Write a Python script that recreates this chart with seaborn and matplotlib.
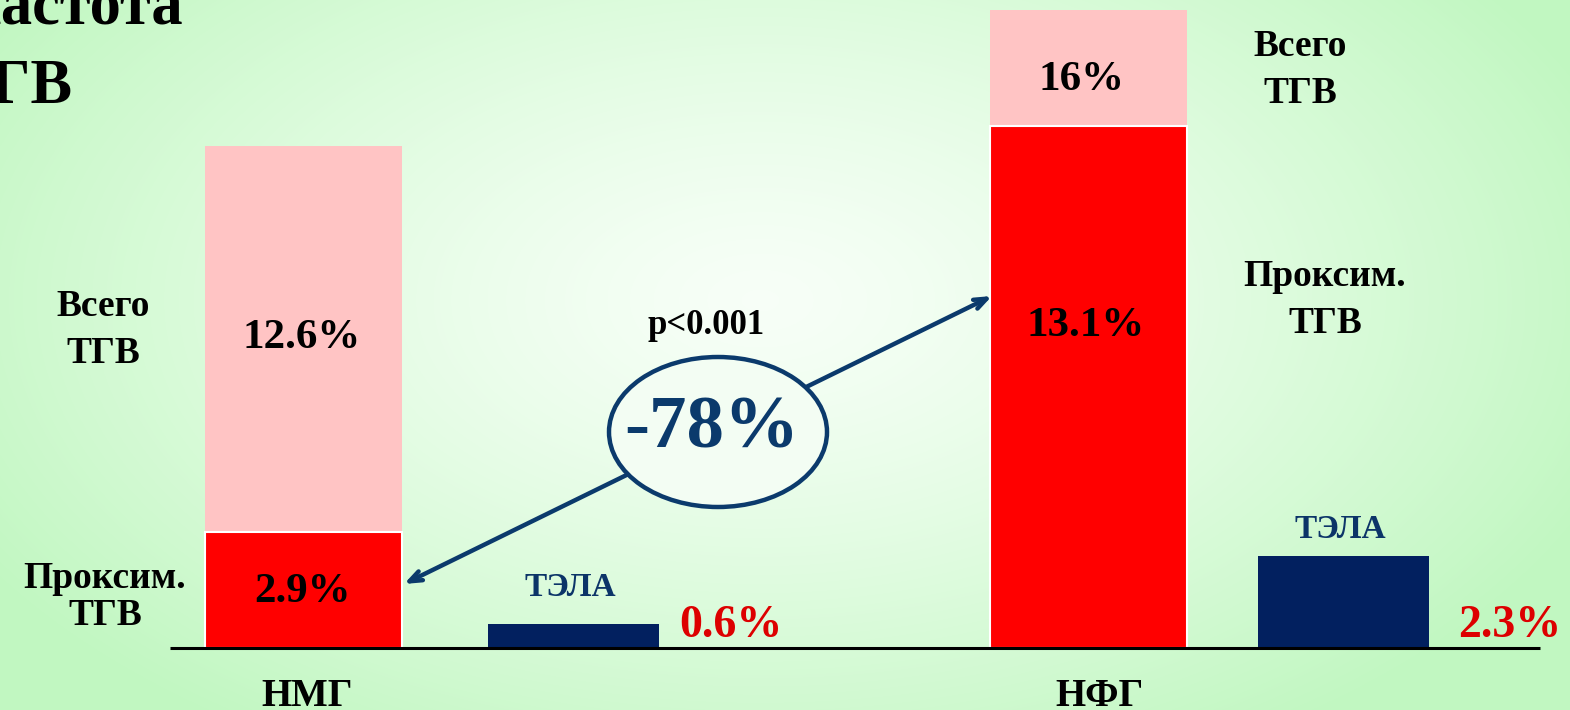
import numpy as np
import pandas as pd
import matplotlib
matplotlib.use("Agg")
import matplotlib.pyplot as plt
from matplotlib.patches import Ellipse
import seaborn as sns

# ---- data ----
groups = ["НМГ", "НФГ"]
total_tgv = [12.6, 16.0]
proximal_tgv = [2.9, 13.1]
tela = [0.6, 2.3]
total_labels = ["12.6%", "16%"]
prox_labels = ["2.9%", "13.1%"]
tela_labels = ["0.6%", "2.3%"]
reduction_label = "-78%"
p_label = "p<0.001"

sns.set_style("white")
plt.rcParams["font.family"] = ["Liberation Serif", "DejaVu Serif"]
plt.rcParams["font.weight"] = "bold"

W, H = 1570, 710
fig = plt.figure(figsize=(W / 100, H / 100), dpi=100)

# background radial gradient
axbg = fig.add_axes([0, 0, 1, 1], zorder=0)
yy, xx = np.mgrid[0:H, 0:W]
t = np.sqrt(((xx - 760) / 900.0) ** 2 + ((yy - 300) / 520.0) ** 2)
t = np.clip(t, 0, 1) ** 1.3
c0 = np.array([0.97, 1.0, 0.97])
c1 = np.array([0.76, 0.97, 0.76])
img = c0[None, None, :] * (1 - t[..., None]) + c1[None, None, :] * t[..., None]
axbg.imshow(img, aspect="auto", extent=[0, 1, 0, 1], origin="upper")
axbg.axis("off")

ax = fig.add_axes([0, 0, 1, 1], zorder=1)
ax.patch.set_alpha(0)

# coordinate helpers (pixel -> data) for annotations
X0, XS = 303.5, 785.0
Y0, YS = 648.0, 39.875
def dx(px): return (px - X0) / XS
def dy(py): return (Y0 - py) / YS

main_pos = [0.0, 1.0]
tela_pos = [dx(573.5), dx(1343.5)]

df_main = pd.DataFrame({"pos": main_pos, "total": total_tgv, "prox": proximal_tgv})
df_tela = pd.DataFrame({"pos": tela_pos, "tela": tela})

sns.barplot(data=df_main, x="pos", y="total", native_scale=True, width=197 / XS,
            color="#ffc4c4", saturation=1, errorbar=None, linewidth=0, ax=ax)
sns.barplot(data=df_main, x="pos", y="prox", native_scale=True, width=197 / XS,
            color="#ff0000", saturation=1, errorbar=None, linewidth=1.5,
            edgecolor="white", ax=ax)
sns.barplot(data=df_tela, x="pos", y="tela", native_scale=True,
            width=(171 / XS) / (tela_pos[1] - tela_pos[0]),
            color="#02205f", saturation=1, errorbar=None, linewidth=0, ax=ax)

ax.set_xlim(dx(0), dx(W))
ax.set_ylim(dy(H), dy(0))
ax.axis("off")

# baseline
ax.plot([dx(170), dx(1540)], [0, 0], color="black", lw=2.2, zorder=5, solid_capstyle="butt")

def txt(px, py, s, size, color="black", ha="center", va="center", **kw):
    ax.text(dx(px), dy(py), s, fontsize=size, color=color, ha=ha, va=va,
            fontweight="bold", zorder=10, **kw)

# title (cut off at left)
txt(183, 24, "Частота", 45, ha="right", va="baseline")
txt(72, 103, "ТГВ", 45, ha="right", va="baseline")

# value labels in bars
txt(302, 338, total_labels[0], 31)
txt(302, 592, prox_labels[0], 31)
txt(1081, 80, total_labels[1], 31)
txt(1086, 326, prox_labels[1], 31)

# side labels
txt(103, 330, "Всего\nТГВ", 27, linespacing=1.45)
txt(105, 597, "Проксим.\nТГВ", 27, linespacing=1.1)
txt(1300, 70, "Всего\nТГВ", 27, linespacing=1.45)
txt(1325, 300, "Проксим.\nТГВ", 27, linespacing=1.45)

# ТЭЛА labels
txt(570, 588, "ТЭЛА", 24, color="#0c3468")
txt(1340, 530, "ТЭЛА", 24, color="#0c3468")
txt(731, 626, tela_labels[0], 33, color="#dd0000")
txt(1510, 626, tela_labels[1], 33, color="#dd0000")

# group labels
txt(307, 696, groups[0], 28)
txt(1100, 696, groups[1], 28)

# arrow and ellipse
arrow_col = "#0b3a6c"
ax.annotate("", xy=(dx(992), dy(296)), xytext=(dx(404), dy(584)),
            arrowprops=dict(arrowstyle="<->,head_length=0.9,head_width=0.35",
                            color=arrow_col, lw=3.2, shrinkA=0, shrinkB=0), zorder=6)
ell = Ellipse((dx(718), dy(432)), 218 / XS, 150 / YS, facecolor="#f3fdf3",
              edgecolor=arrow_col, lw=3.2, zorder=7)
ax.add_patch(ell)
txt(712, 430, reduction_label, 54, color=arrow_col)
txt(706, 326, p_label, 25)

fig.savefig("out.png", dpi=100)
